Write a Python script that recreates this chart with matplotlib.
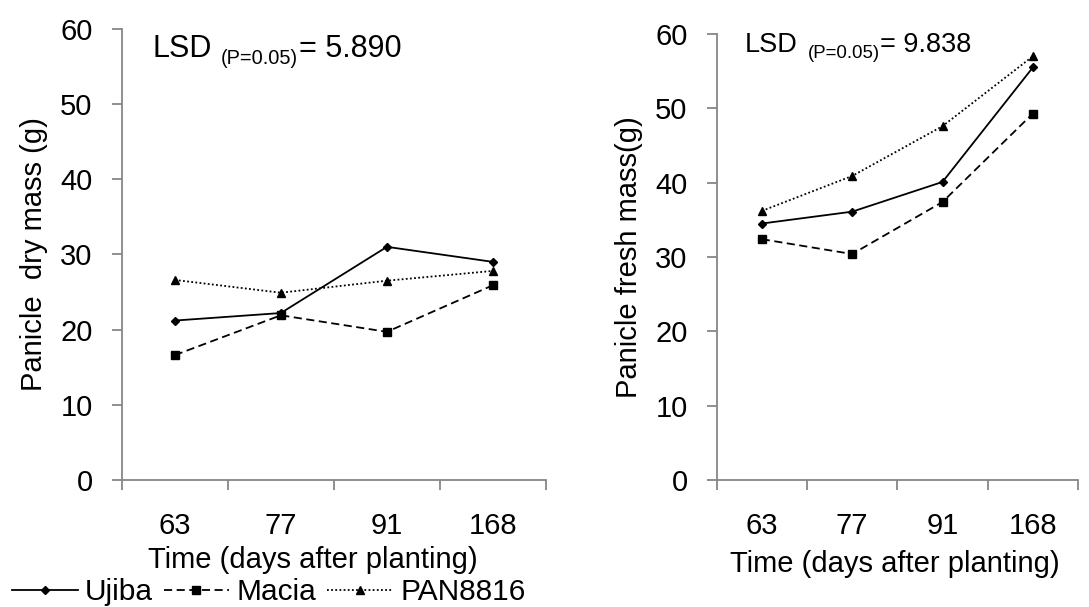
#!/usr/bin/env python3
"""
Panicle dry / fresh mass of three sorghum varieties over time
"""
import matplotlib
matplotlib.use("Agg")
import matplotlib.pyplot as plt

plt.rcParams["font.family"] = ["Liberation Sans", "DejaVu Sans"]

days = ["63", "77", "91", "168"]
varieties = ["Ujiba", "Macia", "PAN8816"]

dry_ujiba = [21.2, 22.2, 31.0, 29.0]
dry_macia = [16.6, 21.9, 19.7, 25.9]
dry_pan = [26.6, 24.9, 26.5, 27.8]

fresh_ujiba = [34.5, 36.1, 40.1, 55.5]
fresh_macia = [32.4, 30.4, 37.4, 49.3]
fresh_pan = [36.2, 40.9, 47.6, 57.0]

lsd_dry = "5.890"
lsd_fresh = "9.838"

GRAY = "#868686"
FS = 21
STYLES = [
    dict(linestyle="-", marker="D", markersize=4.5),
    dict(linestyle=(0, (4.5, 2.5)), marker="s", markersize=5.5),
    dict(linestyle=(0, (1, 1.3)), marker="^", markersize=5.5),
]


def style_axes(ax):
    n = len(days)
    ax.set_xlim(0, n)
    ax.set_ylim(0, 60)
    for s in ["top", "right"]:
        ax.spines[s].set_visible(False)
    for s in ["left", "bottom"]:
        ax.spines[s].set_color(GRAY)
        ax.spines[s].set_linewidth(1.3)
    ax.set_yticks(range(0, 61, 10))
    ax.tick_params(axis="y", length=7, width=1.3, color=GRAY, labelsize=FS, pad=14)
    # tick marks between categories, labels at category centres
    ax.set_xticks(range(n + 1))
    ax.set_xticklabels([])
    ax.set_xticks([i + 0.5 for i in range(n)], minor=True)
    ax.set_xticklabels(days, minor=True)
    ax.tick_params(axis="x", which="major", length=7, width=1.3, color=GRAY)
    ax.tick_params(axis="x", which="minor", length=0, labelsize=FS, pad=23)
    ax.set_xlabel("Time (days after planting)", fontsize=FS)


def draw(ax, series):
    xs = [i + 0.5 for i in range(len(days))]
    lines = []
    for name, ys, st in zip(varieties, series, STYLES):
        ln, = ax.plot(xs, ys, color="black", linewidth=1.3, label=name,
                      clip_on=False, **st)
        lines.append(ln)
    return lines


def lsd_label(fig, x_px, base_px, value, size, sub_size):
    # "LSD (P=0.05)= value" with the bracket part set lower and smaller
    W, H = fig.get_size_inches() * fig.dpi
    t1 = fig.text(x_px / W, 1 - base_px / H, "LSD", fontsize=size, va="baseline")
    t2 = plt.annotate("(P=0.05)", xy=(1, 0), xycoords=t1, xytext=(7, -3),
                      textcoords="offset points", fontsize=sub_size,
                      va="bottom", ha="left", annotation_clip=False)
    plt.annotate("= " + value, xy=(1, 0), xycoords=(t2, t1), xytext=(0.5, 0),
                 textcoords="offset points", fontsize=size,
                 va="bottom", ha="left", annotation_clip=False)


fig = plt.figure(figsize=(10.89, 6.07), dpi=100)
ax1 = fig.add_axes([0.1118, 0.2092, 0.3896, 0.7435])
ax2 = fig.add_axes([0.6581, 0.2092, 0.3318, 0.7348])

lines = draw(ax1, [dry_ujiba, dry_macia, dry_pan])
draw(ax2, [fresh_ujiba, fresh_macia, fresh_pan])
style_axes(ax1)
style_axes(ax2)
ax1.xaxis.set_label_coords(0.451, -0.147)
ax2.xaxis.set_label_coords(0.493, -0.157)

ax1.set_ylabel("Panicle  dry mass (g)", fontsize=FS, labelpad=9)
ax2.set_ylabel("Panicle fresh mass(g)", fontsize=FS, labelpad=9)

plt.sca(ax1)
lsd_label(fig, 152, 56.7, lsd_dry, 22, 14.4)
plt.sca(ax2)
lsd_label(fig, 745, 51.7, lsd_fresh, 19.5, 13.4)

fig.legend(lines, varieties, loc="lower left", bbox_to_anchor=(0.011, 0.001),
           ncol=3, frameon=False, fontsize=21.5, handlelength=2.2,
           handletextpad=0.25, columnspacing=0.35, borderaxespad=0,
           borderpad=0)

fig.savefig("out.png", dpi=100)
